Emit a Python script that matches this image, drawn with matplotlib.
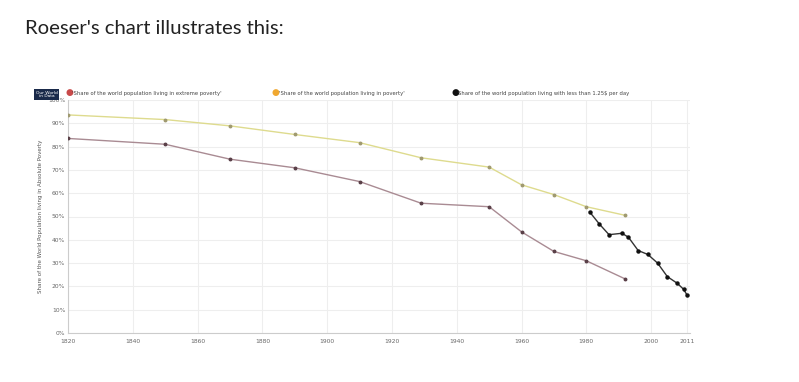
import matplotlib.pyplot as plt
from matplotlib.patches import FancyBboxPatch

years_bm = [1820, 1850, 1870, 1890, 1910, 1929, 1950, 1960, 1970, 1980, 1992]
extreme = [83.5, 81.0, 74.6, 70.9, 65.0, 55.7, 54.2, 43.4, 35.0, 31.0, 23.2]
poverty = [93.6, 91.6, 88.9, 85.2, 81.7, 75.2, 71.2, 63.6, 59.4, 54.2, 50.5]

years_wb = [1981, 1984, 1987, 1991, 1993, 1996, 1999, 2002, 2005, 2008, 2010, 2011]
under125 = [52.0, 46.8, 42.2, 42.8, 41.1, 35.4, 33.7, 30.0, 24.2, 21.4, 18.8, 16.5]

x_ticks = [1820, 1840, 1860, 1880, 1900, 1920, 1940, 1960, 1980, 2000, 2011]
y_ticks = list(range(0, 101, 10))

legend_labels = ["'Share of the world population living in extreme poverty'",
                 "'Share of the world population living in poverty'",
                 "Share of the world population living with less than 1.25$ per day"]

fig = plt.figure(figsize=(7.99, 3.82), dpi=100)
fig.text(25 / 799, 1 - 28 / 382, "Roeser's chart illustrates this:", family="Lato",
         fontsize=14.6, color="#222222", va="center", ha="left")

ax = fig.add_axes([68 / 799, 1 - 333 / 382, 622 / 799, 233 / 382])
ax.plot(years_bm, poverty, color="#dedb8e", lw=1.0, marker="o", ms=1.8,
        mfc="#a09a70", mec="#a09a70", zorder=3)
ax.plot(years_bm, extreme, color="#a98b93", lw=1.0, marker="o", ms=1.8,
        mfc="#5a4048", mec="#5a4048", zorder=3)
ax.plot(years_wb, under125, color="#333333", lw=1.0, marker="o", ms=2.2,
        mfc="#111111", mec="#111111", zorder=4)

ax.set_xlim(1820, 2012)
ax.set_ylim(0, 100)
ax.set_xticks(x_ticks)
ax.set_xticklabels([str(t) for t in x_ticks])
ax.set_yticks(y_ticks)
ax.set_yticklabels([f"{t}%" for t in y_ticks])
ax.tick_params(labelsize=4.3, colors="#666666", length=0, pad=2)
ax.tick_params(axis="x", pad=4)
ax.grid(True, color="#eeeeee", lw=0.8)
ax.set_axisbelow(True)
for side in ["top", "right"]:
    ax.spines[side].set_visible(False)
for side in ["left", "bottom"]:
    ax.spines[side].set_color("#cccccc")
    ax.spines[side].set_linewidth(0.8)
ax.set_ylabel("Share of the World Population living in Absolute Poverty",
              fontsize=4, color="#555555", labelpad=4)

# logo box
logo = FancyBboxPatch((34 / 799, 1 - 100 / 382), 25 / 799, 11 / 382,
                      boxstyle="square,pad=0", transform=fig.transFigure,
                      facecolor="#1a2a4a", edgecolor="none")
fig.patches.append(logo)
fig.text(46.5 / 799, 1 - 94.5 / 382, "Our World\nin Data", fontsize=3.2, color="white",
         ha="center", va="center", linespacing=0.9)

# legend
leg_x = [65, 272, 451]
leg_c = ["#c94a4a", "#f0a830", "#111111"]
for lx, lc, lab in zip(leg_x, leg_c, legend_labels):
    fig.text(lx / 799, 1 - 93 / 382, "\u25cf", color=lc, fontsize=6.5,
             ha="left", va="center")
    fig.text((lx + 7) / 799, 1 - 93 / 382, lab, color="#444444", fontsize=3.8,
             ha="left", va="center")

fig.savefig("out.png", dpi=100, facecolor="white")
